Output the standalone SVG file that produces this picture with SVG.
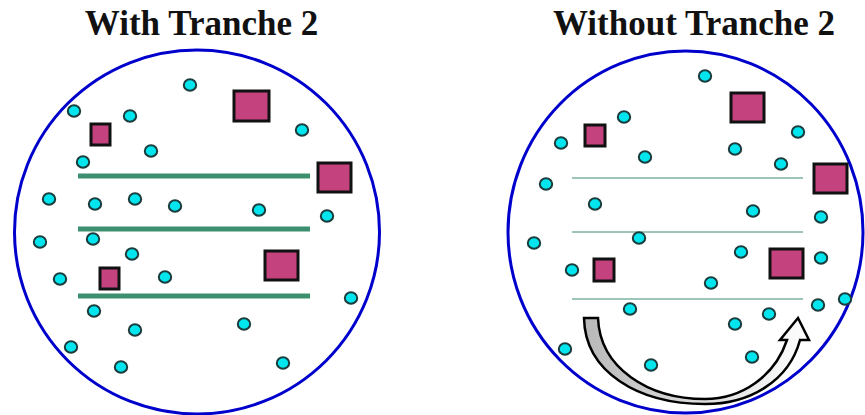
<svg xmlns="http://www.w3.org/2000/svg" width="865" height="415" viewBox="0 0 865 415">
<defs>
<style>
.title{font-family:"Liberation Serif","Times New Roman",serif;font-weight:bold;font-size:35px;fill:#111;text-anchor:middle}
.ring{fill:none;stroke:#0000CC;stroke-width:3}
.dot{fill:#00E5EE;stroke:#1A3C3C;stroke-width:2}
.sq{fill:#C4427E;stroke:#111;stroke-width:3}
.band{stroke:#3C9070;stroke-width:5}
.thin{stroke:#3A8A74;stroke-width:1}
</style>
<linearGradient id="arrowGrad" x1="0" y1="0" x2="1" y2="0">
<stop offset="0" stop-color="#B8B8B8"/>
<stop offset="1" stop-color="#FFFFFF"/>
</linearGradient>
<ellipse id="d" class="dot" rx="6.2" ry="5.8"/>
</defs>
<rect width="865" height="415" fill="#fff"/>

<g id="left-panel">
<text class="title" x="201.5" y="35">With Tranche 2</text>
<ellipse class="ring" cx="197" cy="232" rx="182.5" ry="182"/>
<g id="left-lines">
<line class="band" x1="78" y1="176" x2="310" y2="176"/>
<line class="band" x1="78" y1="229" x2="310" y2="229"/>
<line class="band" x1="78" y1="296" x2="310" y2="296"/>
</g>
<g id="left-squares">
<rect class="sq" x="234" y="91" width="35" height="30"/>
<rect class="sq" x="91" y="124" width="19" height="21"/>
<rect class="sq" x="318" y="163" width="33" height="29"/>
<rect class="sq" x="265" y="251" width="33" height="29"/>
<rect class="sq" x="100" y="268" width="19" height="21"/>
</g>
<g id="left-dots">
<use href="#d" x="190" y="85"/>
<use href="#d" x="74" y="111"/>
<use href="#d" x="130" y="116"/>
<use href="#d" x="302" y="130"/>
<use href="#d" x="151" y="151"/>
<use href="#d" x="83" y="162"/>
<use href="#d" x="49" y="199"/>
<use href="#d" x="95" y="204"/>
<use href="#d" x="135" y="199"/>
<use href="#d" x="175" y="206"/>
<use href="#d" x="259" y="210"/>
<use href="#d" x="327" y="216"/>
<use href="#d" x="40" y="242"/>
<use href="#d" x="93" y="239"/>
<use href="#d" x="132" y="254"/>
<use href="#d" x="60" y="279"/>
<use href="#d" x="165" y="277"/>
<use href="#d" x="351" y="298"/>
<use href="#d" x="94" y="311"/>
<use href="#d" x="135" y="330"/>
<use href="#d" x="244" y="324"/>
<use href="#d" x="71" y="347"/>
<use href="#d" x="121" y="367"/>
<use href="#d" x="283" y="363"/>
</g>
</g>

<g id="right-panel">
<text class="title" x="694" y="35">Without Tranche 2</text>
<ellipse class="ring" cx="685.5" cy="232" rx="177.5" ry="181"/>
<g id="right-lines">
<line class="thin" x1="572" y1="178" x2="803" y2="178"/>
<line class="thin" x1="572" y1="232" x2="803" y2="232"/>
<line class="thin" x1="572" y1="299" x2="803" y2="299"/>
</g>
<g id="right-squares">
<rect class="sq" x="731" y="93" width="33" height="29"/>
<rect class="sq" x="585" y="125" width="20" height="21"/>
<rect class="sq" x="814" y="164" width="33" height="29"/>
<rect class="sq" x="770" y="249" width="33" height="29"/>
<rect class="sq" x="594" y="259" width="20" height="22"/>
</g>
<g id="right-dots">
<use href="#d" x="705" y="76"/>
<use href="#d" x="624" y="117"/>
<use href="#d" x="561" y="143"/>
<use href="#d" x="645" y="157"/>
<use href="#d" x="798" y="132"/>
<use href="#d" x="735" y="149"/>
<use href="#d" x="781" y="164"/>
<use href="#d" x="546" y="184"/>
<use href="#d" x="595" y="204"/>
<use href="#d" x="753" y="211"/>
<use href="#d" x="821" y="217"/>
<use href="#d" x="534" y="243"/>
<use href="#d" x="639" y="238"/>
<use href="#d" x="741" y="252"/>
<use href="#d" x="821" y="258"/>
<use href="#d" x="572" y="270"/>
<use href="#d" x="711" y="283"/>
<use href="#d" x="630" y="309"/>
<use href="#d" x="818" y="305"/>
<use href="#d" x="845" y="299"/>
<use href="#d" x="769" y="314"/>
<use href="#d" x="735" y="324"/>
<use href="#d" x="565" y="349"/>
<use href="#d" x="651" y="365"/>
<use href="#d" x="752" y="357"/>
</g>
<g id="curved-arrow">
<path d="M584,318 L598,318 C600,368 648,399 705,399 C742,399 775,376 787,340 L780,340 L798,318 L809,340 L800,340 C789,381 750,404 705,404 C638,404 585,372 584,318 Z" fill="url(#arrowGrad)" stroke="#000" stroke-width="2.5" stroke-linejoin="miter"/>
</g>
</g>
</svg>
